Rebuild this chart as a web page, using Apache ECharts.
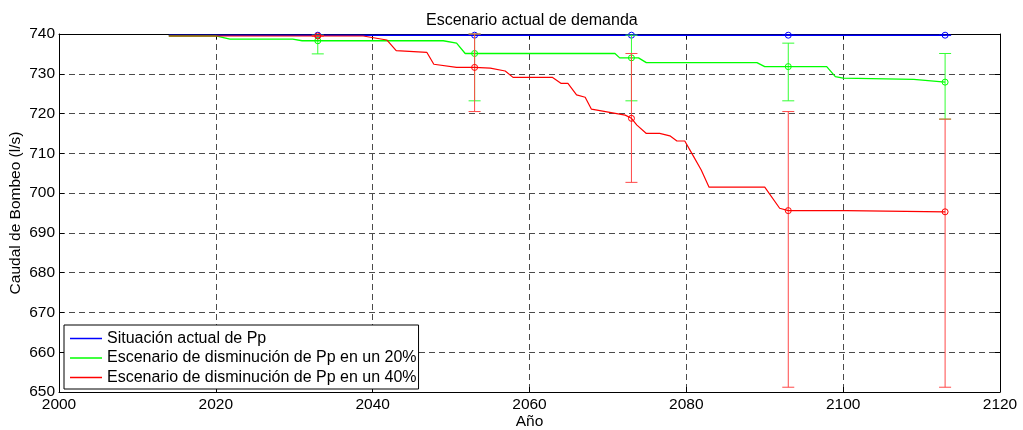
<!DOCTYPE html>
<html>
<head>
<meta charset="utf-8">
<script src="https://cdn.jsdelivr.net/npm/echarts@6/dist/echarts.min.js"></script>
<style>
html,body{margin:0;padding:0;background:#fff;}
#c{width:1023px;height:430px;}
</style>
</head>
<body>
<div id="c"></div>
<script>
// ---- data ----
const seriesNames = [
  'Situación actual de Pp',
  'Escenario de disminución de Pp en un 20%',
  'Escenario de disminución de Pp en un 40%'
];
const xTicks = [2000, 2020, 2040, 2060, 2080, 2100, 2120];
const yTicks = [650, 660, 670, 680, 690, 700, 710, 720, 730, 740];

const blueX = [2014, 2113];
const blueY = [739.7, 739.7];

const greenX = [2014, 2020, 2021.8, 2029.8, 2031, 2049, 2050.7, 2051.8, 2070.9, 2071.5, 2073.9, 2074.9, 2089.0, 2090.0, 2097.9, 2099.0, 2100.0, 2109, 2113];
const greenY = [739.5, 739.5, 738.7, 738.7, 738.3, 738.3, 737.7, 735.1, 735.1, 734.0, 734.0, 732.8, 732.8, 731.8, 731.8, 729.3, 728.9, 728.6, 727.9];

const redX = [2014, 2038.8, 2041.8, 2043, 2046.9, 2047.8, 2050.7, 2053, 2055, 2056.9, 2057.9, 2062.9, 2064.0, 2064.9, 2066.0, 2067.1, 2067.9, 2072.2, 2073, 2073.7, 2074.9, 2076.6, 2077.9, 2078.8, 2079.8, 2080.7, 2081.9, 2082.9, 2090.0, 2091.9, 2093, 2100.4, 2113];
const redY = [739.5, 739.5, 738.5, 735.8, 735.4, 732.4, 731.6, 731.6, 731.4, 730.7, 729.1, 729.1, 727.6, 727.6, 724.7, 724.1, 721.1, 719.6, 718.8, 717.1, 715.0, 715.0, 714.4, 713.1, 713.1, 710.0, 705.8, 701.5, 701.5, 696.2, 695.6, 695.6, 695.3];

const errYears = [2033, 2053, 2073, 2093, 2113];
const blueMean = [739.7, 739.7, 739.7, 739.7, 739.7];
const blueLow  = [739.7, 739.7, 739.7, 739.7, 739.7];
const blueHigh = [739.7, 739.7, 739.7, 739.7, 739.7];
const greenMean = [738.3, 735.1, 734.0, 731.8, 727.9];
const greenLow  = [735.0, 723.2, 723.2, 723.2, 718.6];
const greenHigh = [739.7, 740.0, 739.7, 737.7, 735.1];
const redMean = [739.5, 731.6, 718.8, 695.6, 695.3];
const redLow  = [739.5, 720.5, 702.7, 651.2, 651.2];
const redHigh = [739.5, 740.0, 735.1, 720.5, 718.6];

// ---- build ----
const colors = ['#0000ff', '#00ff00', '#ff0000'];
const errColors = ['#0000ff', '#33ff33', '#ff4848'];
const FONT = '"Liberation Sans", Arial, sans-serif';

function zip(xs, ys) { return xs.map((x, i) => [x, ys[i]]); }
function errRows(mean, lo, hi) { return errYears.map((y, i) => [y, mean[i], lo[i], hi[i]]); }

function errSeries(idx, rows) {
  const col = errColors[idx];
  const mcol = colors[idx];
  return {
    type: 'custom',
    name: seriesNames[idx] + ' err',
    xAxisIndex: 0, yAxisIndex: 0,
    data: rows,
    encode: { x: 0, y: 1 },
    z: 3 + idx,
    silent: true,
    renderItem: function (params, api) {
      const x = api.value(0);
      const m = api.coord([x, api.value(1)]);
      const lo = api.coord([x, api.value(2)]);
      const hi = api.coord([x, api.value(3)]);
      const hw = 6;
      const st = { stroke: col, lineWidth: 1 };
      return {
        type: 'group',
        children: [
          { type: 'line', shape: { x1: lo[0], y1: lo[1], x2: hi[0], y2: hi[1] }, style: st },
          { type: 'line', shape: { x1: lo[0] - hw, y1: lo[1], x2: lo[0] + hw, y2: lo[1] }, style: st },
          { type: 'line', shape: { x1: hi[0] - hw, y1: hi[1], x2: hi[0] + hw, y2: hi[1] }, style: st },
          { type: 'circle', shape: { cx: m[0], cy: m[1], r: 3 }, style: { stroke: mcol, fill: 'none', lineWidth: 1 } }
        ]
      };
    }
  };
}

function lineSeries(idx, data, w) {
  return {
    type: 'line',
    name: seriesNames[idx],
    data: data,
    showSymbol: false,
    symbol: 'none',
    lineStyle: { color: colors[idx], width: w },
    itemStyle: { color: colors[idx] },
    z: 3 + idx,
    animation: false
  };
}

const axisLineStyle = { color: '#000', width: 1 };
const gridLine = { color: '#4a4a4a', type: [6, 4], width: 1 };

const option = {
  animation: false,
  backgroundColor: '#fff',
  textStyle: { fontFamily: FONT, color: '#000' },
  title: {
    text: 'Escenario actual de demanda',
    left: 421, top: 8,
    textStyle: { fontFamily: FONT, fontSize: 16, fontWeight: 'normal', color: '#000' }
  },
  grid: { left: 59, right: 23, top: 34, bottom: 38, containLabel: false, outerBoundsMode: 'none' },
  legend: {
    data: seriesNames.map((n, i) => ({ name: n, icon: 'rect', itemStyle: { color: colors[i] } })),
    orient: 'vertical',
    left: 64, top: 325,
    padding: [5, 2, 3, 6],
    itemWidth: 32, itemHeight: 1.5, itemGap: 2.5,
    backgroundColor: '#fff',
    borderColor: '#000', borderWidth: 1, borderRadius: 0,
    textStyle: { fontFamily: FONT, fontSize: 16, color: '#000', lineHeight: 17 },
    selectedMode: false
  },
  xAxis: [{
    type: 'value', min: xTicks[0], max: xTicks[xTicks.length - 1], interval: 20,
    name: 'Año', nameLocation: 'middle', nameGap: 22, nameMoveOverlap: false,
    nameTextStyle: { fontFamily: FONT, fontSize: 15.5, color: '#000' },
    axisLine: { show: true, lineStyle: axisLineStyle },
    axisTick: { show: true, inside: true, length: 5, lineStyle: axisLineStyle },
    axisLabel: { show: true, fontFamily: FONT, fontSize: 15.5, color: '#000', margin: 5,
      formatter: function (v) { return String(v); } },
    splitLine: { show: true, lineStyle: gridLine }
  }, {
    type: 'value', position: 'top', min: xTicks[0], max: xTicks[xTicks.length - 1], interval: 20,
    axisLine: { show: true, lineStyle: axisLineStyle },
    axisTick: { show: true, inside: true, length: 5, lineStyle: axisLineStyle },
    axisLabel: { show: false }, splitLine: { show: false }
  }],
  yAxis: [{
    type: 'value', min: yTicks[0], max: yTicks[yTicks.length - 1], interval: 10,
    name: 'Caudal de Bombeo (l/s)', nameLocation: 'middle', nameGap: 35, nameMoveOverlap: false,
    nameTextStyle: { fontFamily: FONT, fontSize: 15.5, color: '#000' },
    axisLine: { show: true, lineStyle: axisLineStyle },
    axisTick: { show: true, inside: true, length: 5, lineStyle: axisLineStyle },
    axisLabel: { show: true, fontFamily: FONT, fontSize: 15.5, color: '#000', margin: 4,
      formatter: function (v) { return String(v); } },
    splitLine: { show: true, lineStyle: gridLine }
  }, {
    type: 'value', position: 'right', min: yTicks[0], max: yTicks[yTicks.length - 1], interval: 10,
    axisLine: { show: true, lineStyle: axisLineStyle },
    axisTick: { show: true, inside: true, length: 5, lineStyle: axisLineStyle },
    axisLabel: { show: false }, splitLine: { show: false }
  }],
  series: [
    lineSeries(0, zip(blueX, blueY), 1.6),
    errSeries(0, errRows(blueMean, blueLow, blueHigh)),
    lineSeries(1, zip(greenX, greenY), 1.3),
    errSeries(1, errRows(greenMean, greenLow, greenHigh)),
    lineSeries(2, zip(redX, redY), 1.2),
    errSeries(2, errRows(redMean, redLow, redHigh))
  ]
};

const chart = echarts.init(document.getElementById('c'), null, { renderer: 'canvas' });
chart.setOption(option);
</script>
</body>
</html>
